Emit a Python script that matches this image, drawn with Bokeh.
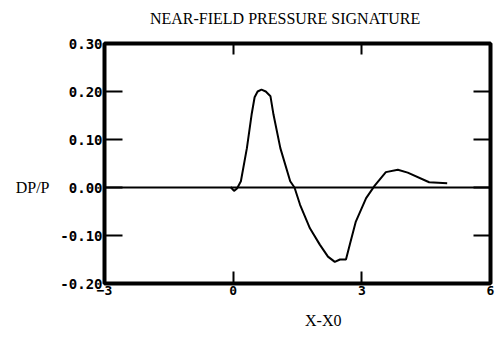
from bokeh.plotting import figure
from bokeh.models import Range1d, LinearAxis, FixedTicker, Span
from bokeh.embed import file_html
from bokeh.resources import INLINE

# data
x_vals = [-0.06, 0.02, 0.09, 0.18, 0.32, 0.43, 0.50, 0.57, 0.66, 0.76, 0.87, 0.94,
          1.10, 1.33, 1.43, 1.56, 1.79, 2.02, 2.21, 2.37, 2.49, 2.63, 2.72, 2.86,
          3.10, 3.30, 3.56, 3.84, 4.07, 4.57, 4.99]
y_vals = [0.001, -0.007, -0.002, 0.013, 0.082, 0.152, 0.188, 0.200, 0.204, 0.200, 0.190, 0.152,
          0.082, 0.013, 0.0, -0.036, -0.085, -0.119, -0.144, -0.155, -0.150, -0.150, -0.119, -0.071,
          -0.022, 0.004, 0.032, 0.037, 0.031, 0.011, 0.009]

x_ticks = [-3, 0, 3, 6]
y_ticks = [-0.2, -0.1, 0.0, 0.1, 0.2, 0.3]
y_tick_labels = {-0.2: "-0.20", -0.1: "-0.10", 0.0: "0.00", 0.1: "0.10", 0.2: "0.20", 0.3: "0.30"}
title_text = "NEAR-FIELD PRESSURE SIGNATURE"
x_label = "X-X0"
y_label = "DP/P"

# where the text labels sit (data coordinates along their axis)
title_pos = 1.21
x_label_pos = 2.10
y_label_pos = 0.0

p = figure(width=500, height=339, output_backend="svg", toolbar_location=None,
           x_range=Range1d(-3, 6), y_range=Range1d(-0.2, 0.3),
           x_axis_location=None, y_axis_location=None,
           min_border_left=104, min_border_right=10, min_border_top=43, min_border_bottom=56)
p.background_fill_color = "white"
p.border_fill_color = "white"
p.xgrid.visible = False
p.ygrid.visible = False
p.outline_line_color = "black"
p.outline_line_width = 4

serif = "Liberation Serif"
mono = "DejaVu Sans Mono"

def style_axis(ax, tick_len, labels):
    ax.axis_line_color = None
    ax.major_tick_in = tick_len
    ax.major_tick_out = 0
    ax.major_tick_line_width = 2
    ax.major_tick_line_color = "black"
    ax.minor_tick_line_color = None
    if labels:
        ax.major_label_text_font = mono
        ax.major_label_text_font_style = "bold"
        ax.major_label_text_color = "black"
        ax.major_label_standoff = 2
    else:
        ax.major_label_text_font_size = "0px"
        ax.major_label_text_color = None
        ax.major_label_standoff = 0

def text_axis(pos, text, standoff):
    ax = LinearAxis(ticker=FixedTicker(ticks=[pos]), major_label_overrides={pos: text})
    ax.axis_line_color = None
    ax.major_tick_line_color = None
    ax.minor_tick_line_color = None
    ax.major_tick_in = 0
    ax.major_tick_out = 0
    ax.major_label_text_font = serif
    ax.major_label_text_font_size = "16px"
    ax.major_label_text_color = "black"
    ax.major_label_standoff = standoff
    return ax

left = LinearAxis(ticker=FixedTicker(ticks=y_ticks), major_label_overrides=y_tick_labels)
style_axis(left, 18, True)
left.major_label_text_font_size = "14px"
p.add_layout(left, "left")
p.add_layout(text_axis(y_label_pos, y_label, 8), "left")

right = LinearAxis(ticker=FixedTicker(ticks=y_ticks))
style_axis(right, 17, False)
p.add_layout(right, "right")

bottom = LinearAxis(ticker=FixedTicker(ticks=x_ticks))
style_axis(bottom, 12, True)
bottom.major_label_text_font_size = "13px"
p.add_layout(bottom, "below")
p.add_layout(text_axis(x_label_pos, x_label, 14), "below")

top = LinearAxis(ticker=FixedTicker(ticks=x_ticks))
style_axis(top, 11, False)
p.add_layout(top, "above")
p.add_layout(text_axis(title_pos, title_text, 17), "above")

p.add_layout(Span(location=0, dimension="width", line_color="black", line_width=2))

p.line(x_vals, y_vals, line_color="black", line_width=2)

open("out.html", "w").write(file_html(p, INLINE))
